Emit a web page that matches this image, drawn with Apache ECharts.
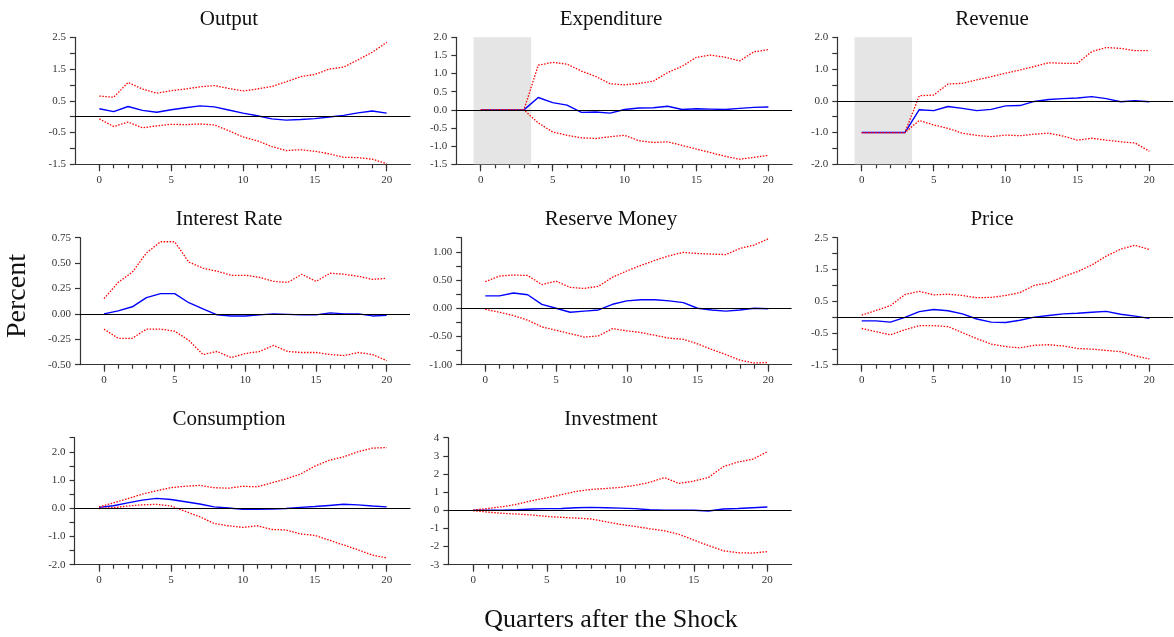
<!DOCTYPE html>
<html>
<head>
<meta charset="utf-8">
<script src="https://cdn.jsdelivr.net/npm/echarts@6/dist/echarts.min.js"></script>
<style>
html,body{margin:0;padding:0;background:#fff;}
#chart{width:1174px;height:637px;}
</style>
</head>
<body>
<div id="chart"></div>
<script>
// ---------- data ----------
const quarters = [0,1,2,3,4,5,6,7,8,9,10,11,12,13,14,15,16,17,18,19,20];
const xTickLabels = [0,5,10,15,20];

const outputIrf = [0.25,0.16,0.32,0.20,0.14,0.22,0.28,0.34,0.31,0.21,0.11,0.03,-0.07,-0.11,-0.09,-0.06,-0.01,0.04,0.12,0.18,0.11];
const outputHi  = [0.65,0.61,1.08,0.87,0.74,0.82,0.87,0.94,0.98,0.89,0.81,0.87,0.95,1.10,1.26,1.33,1.50,1.56,1.79,2.03,2.34];
const outputLo  = [-0.07,-0.31,-0.17,-0.35,-0.29,-0.24,-0.25,-0.23,-0.26,-0.44,-0.64,-0.76,-0.94,-1.07,-1.04,-1.09,-1.17,-1.28,-1.29,-1.34,-1.48];

const expendIrf = [0,0,0,0,0.34,0.20,0.13,-0.07,-0.06,-0.09,0.01,0.05,0.06,0.10,0.01,0.03,0.02,0.01,0.04,0.07,0.08];
const expendHi  = [0,0,0,0,1.23,1.31,1.26,1.07,0.92,0.72,0.69,0.73,0.79,1.03,1.20,1.45,1.51,1.45,1.35,1.60,1.66];
const expendLo  = [0,0,0,0,-0.36,-0.61,-0.70,-0.77,-0.79,-0.74,-0.70,-0.85,-0.90,-0.88,-0.98,-1.08,-1.18,-1.28,-1.36,-1.31,-1.25];

const revenueIrf = [-1,-1,-1,-1,-0.28,-0.31,-0.18,-0.24,-0.31,-0.27,-0.16,-0.15,-0.02,0.04,0.07,0.09,0.13,0.07,-0.03,0.00,-0.03];
const revenueHi  = [-1,-1,-1,-1,0.16,0.18,0.53,0.55,0.66,0.76,0.87,0.97,1.08,1.20,1.18,1.18,1.55,1.68,1.65,1.58,1.58];
const revenueLo  = [-1,-1,-1,-1,-0.62,-0.76,-0.87,-1.02,-1.09,-1.13,-1.08,-1.10,-1.05,-1.02,-1.11,-1.24,-1.18,-1.24,-1.29,-1.33,-1.59];

const interestIrf = [0.00,0.03,0.07,0.16,0.20,0.20,0.11,0.05,-0.01,-0.02,-0.02,-0.01,0.00,-0.005,-0.01,-0.01,0.01,0.00,0.00,-0.02,-0.015];
const interestHi  = [0.15,0.31,0.41,0.60,0.71,0.71,0.51,0.45,0.42,0.38,0.38,0.36,0.32,0.31,0.39,0.32,0.40,0.39,0.37,0.34,0.35];
const interestLo  = [-0.15,-0.24,-0.24,-0.15,-0.15,-0.17,-0.26,-0.40,-0.37,-0.43,-0.39,-0.37,-0.31,-0.37,-0.38,-0.38,-0.40,-0.41,-0.38,-0.40,-0.46];

const reserveIrf = [0.22,0.22,0.27,0.24,0.07,0.00,-0.07,-0.05,-0.03,0.07,0.13,0.15,0.15,0.13,0.10,0.00,-0.03,-0.05,-0.03,0.00,-0.01];
const reserveHi  = [0.47,0.57,0.59,0.58,0.42,0.48,0.37,0.35,0.39,0.55,0.66,0.76,0.85,0.93,0.99,0.97,0.96,0.95,1.06,1.12,1.23];
const reserveLo  = [-0.02,-0.07,-0.13,-0.21,-0.33,-0.39,-0.45,-0.51,-0.49,-0.36,-0.40,-0.43,-0.48,-0.53,-0.55,-0.63,-0.73,-0.82,-0.92,-0.97,-0.96];

const priceIrf = [-0.12,-0.12,-0.16,-0.01,0.17,0.24,0.20,0.10,-0.06,-0.16,-0.17,-0.10,0.00,0.05,0.10,0.12,0.15,0.18,0.09,0.03,-0.04];
const priceHi  = [0.06,0.21,0.36,0.71,0.81,0.70,0.72,0.68,0.61,0.62,0.68,0.77,1.00,1.08,1.27,1.43,1.64,1.92,2.14,2.26,2.13];
const priceLo  = [-0.36,-0.46,-0.56,-0.40,-0.27,-0.27,-0.30,-0.49,-0.68,-0.85,-0.93,-0.97,-0.89,-0.87,-0.91,-0.99,-1.01,-1.05,-1.09,-1.22,-1.32];

const consIrf = [0.03,0.09,0.19,0.29,0.35,0.31,0.23,0.15,0.05,0.01,-0.04,-0.04,-0.03,-0.01,0.03,0.06,0.10,0.14,0.12,0.08,0.05];
const consHi  = [0.05,0.19,0.34,0.50,0.62,0.73,0.78,0.81,0.73,0.71,0.78,0.76,0.90,1.04,1.21,1.49,1.70,1.82,2.00,2.13,2.15];
const consLo  = [-0.01,0.02,0.08,0.12,0.14,0.08,-0.11,-0.30,-0.54,-0.62,-0.68,-0.62,-0.75,-0.77,-0.91,-0.96,-1.13,-1.30,-1.47,-1.66,-1.76];

const investIrf = [0.00,0.01,0.00,0.03,0.07,0.09,0.10,0.14,0.16,0.14,0.12,0.09,0.03,0.01,0.01,0.00,-0.04,0.07,0.10,0.14,0.18];
const investHi  = [0.01,0.10,0.20,0.34,0.53,0.69,0.86,1.04,1.15,1.20,1.26,1.37,1.54,1.80,1.48,1.61,1.81,2.40,2.66,2.81,3.23];
const investLo  = [-0.03,-0.10,-0.17,-0.21,-0.26,-0.34,-0.39,-0.43,-0.48,-0.63,-0.78,-0.89,-1.02,-1.13,-1.33,-1.64,-1.95,-2.23,-2.34,-2.36,-2.28];

// y tick marks and tick labels
const outputYTicks = [-1.5,-1.0,-0.5,0,0.5,1.0,1.5,2.0,2.5];
const outputYLabels = [-1.5,-0.5,0.5,1.5,2.5];
const expendYTicks = [-1.5,-1.0,-0.5,0,0.5,1.0,1.5,2.0];
const expendYLabels = [-1.5,-1.0,-0.5,0,0.5,1.0,1.5,2.0];
const revenueYTicks = [-2.0,-1.5,-1.0,-0.5,0,0.5,1.0,1.5,2.0];
const revenueYLabels = [-2.0,-1.0,0,1.0,2.0];
const interestYTicks = [-0.5,-0.25,0,0.25,0.5,0.75];
const interestYLabels = [-0.5,-0.25,0,0.25,0.5,0.75];
const reserveYTicks = [-1.0,-0.75,-0.5,-0.25,0,0.25,0.5,0.75,1.0,1.25];
const reserveYLabels = [-1.0,-0.5,0,0.5,1.0];
const priceYTicks = [-1.5,-1.0,-0.5,0,0.5,1.0,1.5,2.0,2.5];
const priceYLabels = [-1.5,-0.5,0.5,1.5,2.5];
const consYTicks = [-2.0,-1.5,-1.0,-0.5,0,0.5,1.0,1.5,2.0,2.5];
const consYLabels = [-2.0,-1.0,0,1.0,2.0];
const investYTicks = [-3,-2,-1,0,1,2,3,4];
const investYLabels = [-3,-2,-1,0,1,2,3,4];

const shockStart = -0.5, shockEnd = 3.5;

// ---------- layout ----------
const XMIN = -1.7, XMAX = 21.65;
const rowTop = [37.3, 237.7, 437.7];
const rowH = 127;
const panels = [
  {title:'Output', irf:outputIrf, hi:outputHi, lo:outputLo, ticks:outputYTicks, labels:outputYLabels, dec:1, shade:false, left:74.9, width:335.5, row:0, tx:229},
  {title:'Expenditure', irf:expendIrf, hi:expendHi, lo:expendLo, ticks:expendYTicks, labels:expendYLabels, dec:1, shade:true, left:456.3, width:335.8, row:0, tx:611},
  {title:'Revenue', irf:revenueIrf, hi:revenueHi, lo:revenueLo, ticks:revenueYTicks, labels:revenueYLabels, dec:1, shade:true, left:837.3, width:335.8, row:0, tx:992},
  {title:'Interest Rate', irf:interestIrf, hi:interestHi, lo:interestLo, ticks:interestYTicks, labels:interestYLabels, dec:2, shade:false, left:80, width:330, row:1, tx:229},
  {title:'Reserve Money', irf:reserveIrf, hi:reserveHi, lo:reserveLo, ticks:reserveYTicks, labels:reserveYLabels, dec:2, shade:false, left:461.2, width:330.4, row:1, tx:611},
  {title:'Price', irf:priceIrf, hi:priceHi, lo:priceLo, ticks:priceYTicks, labels:priceYLabels, dec:1, shade:false, left:837.3, width:335.8, row:1, tx:992},
  {title:'Consumption', irf:consIrf, hi:consHi, lo:consLo, ticks:consYTicks, labels:consYLabels, dec:1, shade:false, left:74.6, width:335.8, row:2, tx:229},
  {title:'Investment', irf:investIrf, hi:investHi, lo:investLo, ticks:investYTicks, labels:investYLabels, dec:0, shade:false, left:448.3, width:343.3, row:2, tx:611}
];

const FONT = '"Liberation Serif","Times New Roman",serif';
const AXIS_COLOR = '#333';
const grid = [], xAxis = [], yAxis = [], series = [], graphic = [];
const titleY = [19, 219.5, 419.5];

panels.forEach((p, i) => {
  grid.push({left:p.left, top:rowTop[p.row], width:p.width, height:rowH, containLabel:false});
  const ymin = p.ticks[0], ymax = p.ticks[p.ticks.length-1];
  // main x axis (labels + major ticks)
  xAxis.push({
    type:'value', gridIndex:i, min:XMIN, max:XMAX, position:'bottom',
    axisLine:{show:true, onZero:false, lineStyle:{color:AXIS_COLOR, width:1.2}},
    axisTick:{show:true, length:7, customValues:xTickLabels, lineStyle:{color:AXIS_COLOR, width:1.2}},
    axisLabel:{show:true, customValues:xTickLabels, margin:10, fontFamily:FONT, fontSize:11, color:'#333'},
    splitLine:{show:false}
  });
  yAxis.push({
    type:'value', gridIndex:i, min:ymin, max:ymax,
    axisLine:{show:true, onZero:false, lineStyle:{color:AXIS_COLOR, width:1.2}},
    axisTick:{show:true, length:5, customValues:p.ticks, lineStyle:{color:AXIS_COLOR, width:1.2}},
    axisLabel:{show:true, customValues:p.labels, margin:9, fontFamily:FONT, fontSize:11, color:'#333',
      formatter:(v)=>Number(v).toFixed(p.dec)},
    splitLine:{show:false}
  });
  const pair = arr => quarters.map((q, k) => [q, arr[k]]);
  if (p.shade) {
    series.push({
      type:'line', xAxisIndex:i, yAxisIndex:i, data:[], silent:true, z:1,
      markArea:{silent:true, itemStyle:{color:'#e5e5e5'}, data:[[{xAxis:shockStart},{xAxis:shockEnd}]]}
    });
  }
  series.push({
    type:'line', xAxisIndex:i, yAxisIndex:i, data:pair(p.irf), symbol:'none', z:3,
    lineStyle:{color:'#0000ff', width:1.4},
    markLine:{silent:true, symbol:['none','none'], label:{show:false},
      lineStyle:{color:'#000', width:1.2, type:'solid'}, data:[{yAxis:0}]}
  });
  series.push({
    type:'line', xAxisIndex:i, yAxisIndex:i, data:pair(p.hi), symbol:'none', z:4,
    lineStyle:{color:'#ff0000', width:1.3, type:[1.5,1.5]}
  });
  series.push({
    type:'line', xAxisIndex:i, yAxisIndex:i, data:pair(p.lo), symbol:'none', z:4,
    lineStyle:{color:'#ff0000', width:1.3, type:[1.5,1.5]}
  });
  graphic.push({type:'text', silent:true, style:{text:p.title, x:p.tx, y:titleY[p.row],
    font:'21px ' + FONT, fill:'#111', align:'center', verticalAlign:'middle',
    textAlign:'center', textVerticalAlign:'middle'}});
});

// minor x ticks at every quarter (second x axis per grid, no line/labels)
panels.forEach((p, i) => {
  xAxis.push({
    type:'value', gridIndex:i, min:XMIN, max:XMAX, position:'bottom', offset:0,
    axisLine:{show:false, onZero:false},
    axisTick:{show:true, length:4, customValues:quarters, lineStyle:{color:AXIS_COLOR, width:1.2}},
    axisLabel:{show:false},
    splitLine:{show:false}
  });
});

graphic.push({type:'text', silent:true, rotation:Math.PI/2, x:18, y:296,
  style:{text:'Percent', x:0, y:0, font:'28px ' + FONT, fill:'#111', align:'center', verticalAlign:'middle',
  textAlign:'center', textVerticalAlign:'middle'}});
graphic.push({type:'text', silent:true,
  style:{text:'Quarters after the Shock', x:611, y:620, font:'26px ' + FONT, fill:'#111', align:'center', verticalAlign:'middle',
  textAlign:'center', textVerticalAlign:'middle'}});

const chart = echarts.init(document.getElementById('chart'), null, {renderer:'canvas'});
chart.setOption({
  animation:false,
  backgroundColor:'#fff',
  grid, xAxis, yAxis, series, graphic
});
</script>
</body>
</html>
